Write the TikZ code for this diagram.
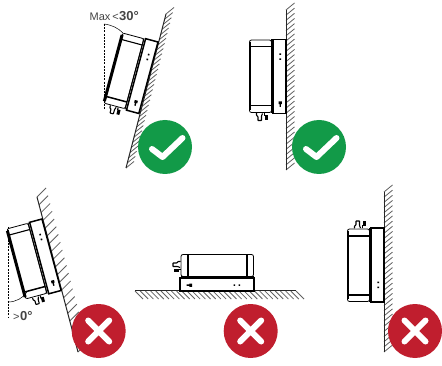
\documentclass[tikz,border=0pt]{standalone}
\usepackage{fontspec}
\setmainfont{Liberation Sans}
\usetikzlibrary{calc}
\definecolor{okgreen}{HTML}{129A48}
\definecolor{badred}{HTML}{C01E2E}
\definecolor{labelgray}{HTML}{444444}
\tikzset{
  wall/.style={line width=1pt,black!85},
  hatch/.style={line width=0.8pt,black!62},
  badge/.style={circle,minimum size=54pt,inner sep=0pt},
  whitemark/.style={line width=6pt,white,line cap=round,line join=round},
  guide/.style={line width=0.6pt,black,dash pattern=on 2pt off 1.2pt},
  thinarc/.style={line width=0.5pt,black},
  lbl/.style={inner sep=0pt,font=\fontsize{11}{11}\selectfont,text=labelgray},
  dev/.style={line width=0.8pt,black},
  devthick/.style={line width=1.5pt,black}
}
\newcommand{\bigdeg}{\bfseries\fontsize{13}{13}\selectfont}
% #1 name, #2 start, #3 end, #4 count, #5 hatch offset
\newcommand{\wallhatch}[5]{%
  \coordinate (#1a) at #2;
  \coordinate (#1b) at #3;
  \foreach \t in {0,...,#4}{
    \draw[hatch] ($(#1a)!{\t/#4}!(#1b)$) -- ++#5;
  }
  \draw[wall] (#1a) -- (#1b);
}
% device in local frame: origin = wall side, top; x to wall, y down
% #1 width of the outer edge, #2 extra drawing on the bracket
\newcommand{\inverter}[2]{%
  \draw[dev,rounded corners=2pt,fill=white] (-36.5,0.5) rectangle (-14.5,73);
  \draw[line width=#1,black] (-36.5,2.5) -- (-36.5,71);
  \draw[line width=1.1pt] (-36.5,7) -- (-14.5,7);
  \draw[devthick] (-36.5,66) -- (-14.5,66);
  \draw[line width=1pt] (-14.5,0) -- (-14.5,73.5);
  \draw[devthick,fill=white] (-12.8,0) rectangle (0,74);
  \fill (-6.6,13.8) rectangle (-5,15.4) (-6.6,18.8) rectangle (-5,20.4);
  #2
  \draw[line width=1.1pt,fill=white,rounded corners=0.5pt] (-29.5,73.5) -- (-29.5,76) -- (-28,77) -- (-28,81) -- (-24.5,81) -- (-24.5,76.5) -- (-23.5,74);
  \draw[line width=1.1pt] (-21.5,73.5) -- (-21.5,76.5);
  \fill (-21.5,75.5) rectangle (-18.5,80.5);
}
\newcommand{\keymark}{%
  \fill (-7.4,62) rectangle (-4.2,64.6) (-6.5,64) rectangle (-5.1,67.5);
}
\newcommand{\tick}[1]{%
  \node[badge,fill=okgreen] (#1) at (0,0) {};
  \draw[whitemark] (-13,2) -- (-2.5,10) -- (17.5,-9);
}
\newcommand{\cross}[1]{%
  \node[badge,fill=badred] (#1) at (0,0) {};
  \draw[whitemark] (-10.5,-10.5) -- (10.5,10.5) (-10.5,10.5) -- (10.5,-10.5);
}
\begin{document}
\begin{tikzpicture}[x=1pt,y=-1pt]
\useasboundingbox (0,0) rectangle (442,366);
\fill[white] (0,0) rectangle (442,366);
% walls
\wallhatch{wa}{(126,168)}{(166,14)}{30}{(8,-6.5)}
\wallhatch{wb}{(286,10)}{(286,170)}{31}{(8.5,-7)}
\wallhatch{wc}{(37,197)}{(78,352)}{20}{(9,-9)}
\wallhatch{wd}{(135,291)}{(296,291)}{31}{(8,8)}
\wallhatch{we}{(384,192)}{(384,352)}{31}{(8.5,-7)}
% inverters
\begin{scope}[shift={(158,42)},rotate=-15]\inverter{3pt}{\keymark}\end{scope}
\begin{scope}[shift={(286,39.5)}]\inverter{2pt}{\keymark}\end{scope}
\begin{scope}[shift={(42,219)},rotate=15]\inverter{3pt}{\keymark}\end{scope}
\begin{scope}[shift={(254,291)},rotate=-90]\inverter{1.5pt}{\keymark}\end{scope}
\begin{scope}[shift={(384,302)},yscale=-1]\inverter{2pt}{}\end{scope}
% angle guides
\coordinate (ga) at (104,24);
\coordinate (gb) at (104,109);
\coordinate (gc) at (8,227);
\coordinate (gd) at (8,318);
\draw[guide] (ga) -- (gb);
\draw[guide] (gc) -- (gd);
\draw[thinarc] (ga) .. controls (112,25) and (118,28) .. (123,33);
\draw[thinarc] (8,302) .. controls (16,302) and (23,298) .. (27,292);
\node[lbl,anchor=base west] (angA) at (89.5,21) {Max\,<\kern0.5pt{\bigdeg 30°}};
\node[lbl,anchor=base west] (angB) at (13,320) {>\kern0.5pt{\bigdeg 0°}};
% badges
\begin{scope}[shift={(165,147)}]\tick{b1}\end{scope}
\begin{scope}[shift={(319,147)}]\tick{b2}\end{scope}
\begin{scope}[shift={(98.7,331)}]\cross{b3}\end{scope}
\begin{scope}[shift={(250.7,331)}]\cross{b4}\end{scope}
\begin{scope}[shift={(415,331)}]\cross{b5}\end{scope}
\end{tikzpicture}
\end{document}
